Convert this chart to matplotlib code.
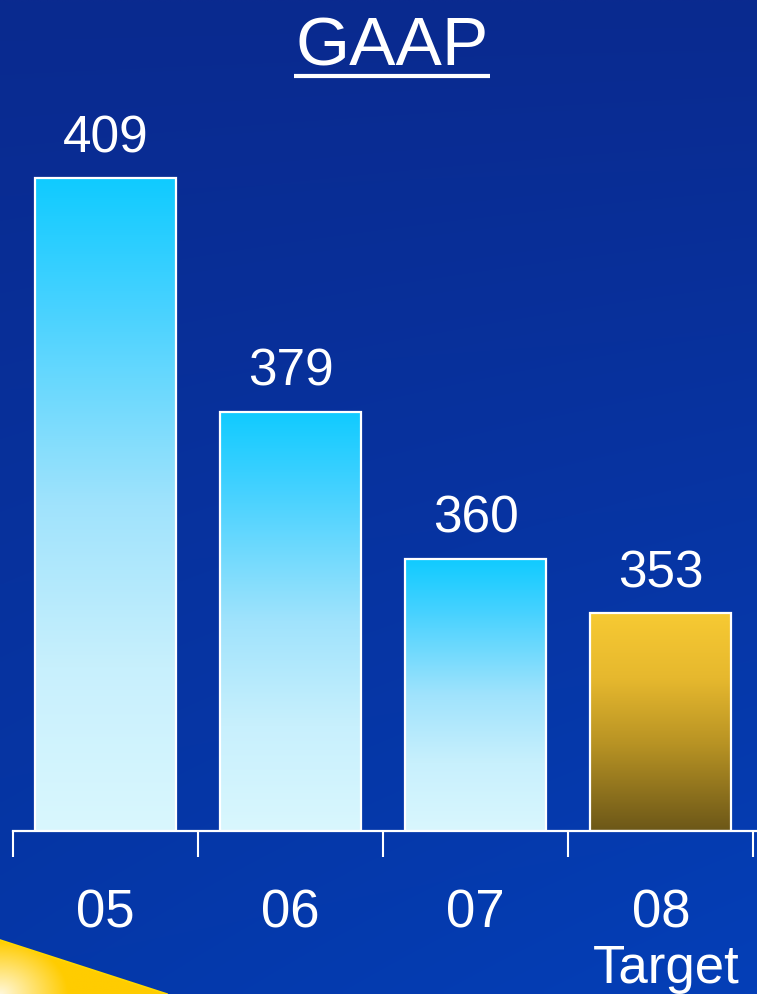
import numpy as np
import matplotlib
matplotlib.use("Agg")
import matplotlib.pyplot as plt
from matplotlib.colors import LinearSegmentedColormap
from matplotlib.patches import Polygon
from matplotlib.lines import Line2D
from matplotlib.transforms import blended_transform_factory

# Data
categories = ["05", "06", "07", "08"]
sublabels = ["", "", "", "Target"]
values = [409, 379, 360, 353]
is_target = [False, False, False, True]
title = "GAAP"

BASE = 325          # value at the baseline of the axis
FONT = "Liberation Sans"

W, H = 757, 994
fig = plt.figure(figsize=(W / 100, H / 100), dpi=100)

# ---- background -------------------------------------------------------
bg = fig.add_axes([0, 0, 1, 1], zorder=-10)
bg.set_xlim(0, W)
bg.set_ylim(H, 0)
bg.axis("off")
yy, xx = np.mgrid[0:1:200j, 0:1:200j]
top = np.array([0x0a, 0x2a, 0x8f]) / 255
bot = np.array([0x04, 0x3a, 0xad]) / 255
t = np.clip(0.85 * yy + 0.15 * xx * yy, 0, 1)[..., None]
img = top * (1 - t) + bot * t
img = img + (np.array([0.0, 0.02, 0.04]) * (xx * yy)[..., None])
bg.imshow(np.clip(img, 0, 1), extent=[0, W, H, 0], aspect="auto", interpolation="bilinear")

# yellow swoosh in the lower left corner
sw_pts = [(0, 940), (167, 994), (0, 994)]
sw = Polygon(sw_pts, closed=True, facecolor="none", edgecolor="none")
bg.add_patch(sw)
gy, gx = np.mgrid[0:1:100j, 0:1:100j]
d = np.clip(np.sqrt((gx / 0.4) ** 2 + ((1 - gy) / 0.9) ** 2), 0, 1)
yel = np.array([1.0, 0.80, 0.0])
wht = np.array([1.0, 0.97, 0.85])
sw_img = wht * (1 - d[..., None]) + yel * d[..., None]
im = bg.imshow(sw_img, extent=[0, 170, 994, 935], aspect="auto", interpolation="bilinear")
im.set_clip_path(sw)
bg.plot([0, 167], [940, 994], color="#ffd800", lw=1.2)

# ---- main axes ---------------------------------------------------------
left_px, right_px, top_px, base_px = 13, 757, 100, 831
ax = fig.add_axes([left_px / W, (H - base_px) / H,
                   (right_px - left_px) / W, (base_px - top_px) / H])
ax.patch.set_alpha(0)
px_per_unit = 7.768
ylim = (BASE, BASE + (base_px - top_px) / px_per_unit)
xlim = (-0.5, 3.52)

x = np.arange(len(categories))
heights = np.array(values) - BASE
bars = ax.bar(x, heights, bottom=BASE, width=0.762,
              facecolor="none", edgecolor="white", linewidth=1.6, zorder=3)

blue_cmap = LinearSegmentedColormap.from_list(
    "barblue", [(0.0, "#10cbff"), (0.2, "#48d2ff"), (0.5, "#a0e3fc"),
                (0.75, "#c8f0fd"), (1.0, "#d9f7fe")])
gold_cmap = LinearSegmentedColormap.from_list(
    "bargold", [(0.0, "#f7ca33"), (0.3, "#e6b82e"), (0.6, "#b89324"),
                (1.0, "#6c5718")])
grad = np.linspace(0, 1, 256)[:, None]
for rect, tgt in zip(bars.patches, is_target):
    x0, y0 = rect.get_x(), rect.get_y()
    w, h = rect.get_width(), rect.get_height()
    # row 0 of the gradient sits at the top of the bar
    gi = ax.imshow(grad, extent=[x0, x0 + w, y0, y0 + h], aspect="auto",
                   cmap=gold_cmap if tgt else blue_cmap, zorder=2,
                   interpolation="bilinear", origin="upper")
    gi.set_clip_path(rect)
ax.set_xlim(*xlim)
ax.set_ylim(*ylim)

for xi, v in zip(x, values):
    ax.annotate(f"{v}", (xi, v), xytext=(0, 19), textcoords="offset points",
                ha="center", va="baseline", fontsize=37, color="white",
                family=FONT)

# axis styling
for s in ["left", "right", "top"]:
    ax.spines[s].set_visible(False)
ax.spines["bottom"].set_color("white")
ax.spines["bottom"].set_linewidth(1.6)
ax.spines["bottom"].set_zorder(4)
ax.set_yticks([])
ax.set_xticks(np.arange(-0.5, len(categories), 1.0))
ax.set_xticklabels([])
ax.tick_params(axis="x", direction="out", length=19, width=1.5, colors="white")

# category labels
tr = blended_transform_factory(ax.transData, fig.transFigure)
for xi, lab, sub in zip(x, categories, sublabels):
    ax.text(xi, (H - 927) / H, lab, transform=tr, ha="center", va="baseline",
            fontsize=38, color="white", family=FONT)
    if sub:
        ax.text(xi + 0.03, (H - 983) / H, sub, transform=tr, ha="center",
                va="baseline", fontsize=38, color="white", family=FONT)

# title with underline
fig.text(392 / W, 1 - 65 / H, title, ha="center", va="baseline",
         fontsize=50, color="white", family=FONT)
fig.add_artist(Line2D([294 / W, 490 / W], [1 - 76 / H, 1 - 76 / H],
                      transform=fig.transFigure, color="white", lw=3.0,
                      solid_capstyle="butt"))

fig.savefig("out.png", dpi=100)
